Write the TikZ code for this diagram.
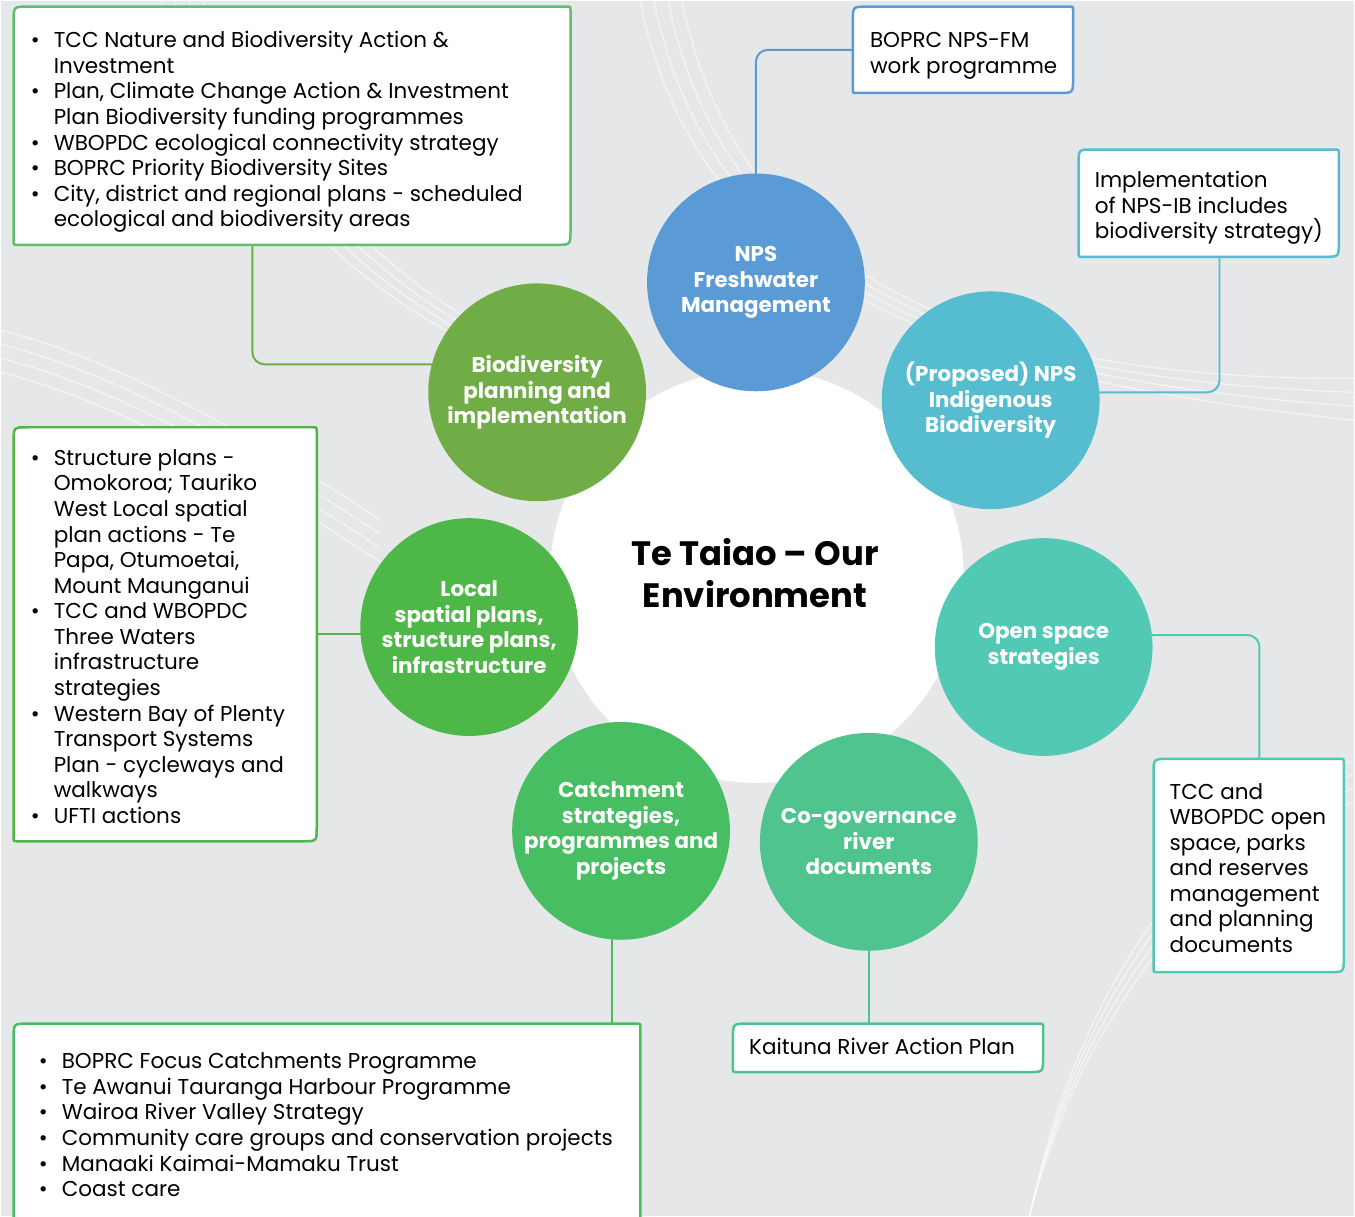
\documentclass[tikz,border=0pt]{standalone}
\usepackage{fontspec}
\setmainfont{Poppins}
\usetikzlibrary{backgrounds,calc}
\definecolor{bgc}{HTML}{E6E7E8}
\definecolor{cNPS}{HTML}{5B9BD5}
\definecolor{cBio}{HTML}{70AD47}
\definecolor{cProp}{HTML}{56BCCF}
\definecolor{cLoc}{HTML}{4DB848}
\definecolor{cOpen}{HTML}{52C9B5}
\definecolor{cCat}{HTML}{47BE62}
\definecolor{cCog}{HTML}{4FC48E}
\definecolor{cBoxG}{HTML}{5CC06C}
% border: large radius at top-left and bottom-right, small at the others
\newcommand\leafborder[2]{%
  \draw[line width=2.5bp, draw=#2, fill=white]
    ($(#1.north west)+(14,0)$) -- ($(#1.north east)+(-4,0)$)
    .. controls (#1.north east) .. ($(#1.north east)+(0,4)$)
    -- ($(#1.south east)+(0,-14)$)
    .. controls (#1.south east) .. ($(#1.south east)+(-14,0)$)
    -- ($(#1.south west)+(4,0)$)
    .. controls (#1.south west) .. ($(#1.south west)+(0,-4)$)
    -- ($(#1.north west)+(0,14)$)
    .. controls (#1.north west) .. ($(#1.north west)+(14,0)$) -- cycle;}
\newcommand\bul{\makebox[23bp][l]{\textbullet}}
\newcommand\ind{\hspace*{23bp}}
\begin{document}
\begin{tikzpicture}[x=1bp,y=-1bp,
  topic/.style={circle, minimum size=218bp, inner sep=0pt, text=white, align=center,
    font=\fontsize{21.5}{25.7}\selectfont\bfseries},
  boxarea/.style={rectangle, inner sep=0pt, anchor=north west},
  boxtext/.style={inner sep=0pt, anchor=north west, align=left, text=black,
    font=\fontsize{21.6}{25.7}\selectfont},
  conn/.style={line width=2bp, rounded corners=12bp},
  deco/.style={draw=white, line width=1.3bp, opacity=0.55}]
\begin{scope}[on background layer]
  \fill[bgc] (0,0) rectangle (1355,1216);
  % faint background ornament
  \foreach \r in {0,14,28,42}{
    \draw[deco] (640+\r,0) .. controls (700+\r,300) and (980+\r,380) .. (1355,420-\r);
    \draw[deco] (160+\r,0) .. controls (250+\r,200) and (380+\r,320) .. (560+\r,380);
    \draw[deco] (1355,760+\r) .. controls (1200,820+\r) and (1080,980+\r) .. (1030,1216);
    \draw[deco] (0,330+\r) .. controls (120,360+\r) and (260,440+\r) .. (380,520+\r);
  }
\end{scope}
\useasboundingbox (0,0) rectangle (1355,1216);

% centre
\node[circle, fill=white, minimum size=414bp, inner sep=0pt] (centre) at (757,576) {};
\node[font=\fontsize{34}{42}\selectfont\bfseries, align=center, text=black] (title) at (755,573)
  {Te Taiao – Our\\Environment};

% topic circles
\node[topic, fill=cNPS]  (nps)  at (756,282) {NPS\\Freshwater\\Management};
\node[topic, fill=cBio]  (bio)  at (537,392) {Biodiversity\\planning and\\implementation};
\node[topic, fill=cProp] (prop) at (991,400) {(Proposed) NPS\\Indigenous\\Biodiversity};
\node[topic, fill=cLoc]  (loc)  at (469,627) {Local\\spatial plans,\\structure plans,\\infrastructure};
\node[topic, fill=cOpen] (open) at (1044,647) {Open space\\strategies};
\node[topic, fill=cCat]  (cat)  at (621,831) {Catchment\\strategies,\\programmes and\\projects};
\node[topic, fill=cCog]  (cog)  at (869,842) {Co-governance\\river\\documents};

% boxes
\node[boxarea, minimum width=557bp, minimum height=238bp] (b1) at (13,6) {};
\leafborder{b1}{cBoxG}
\node[boxtext] (t1) at (30,29) {\strut\bul TCC Nature and Biodiversity Action \&\\
  \ind Investment\\
  \bul Plan, Climate Change Action \& Investment\\
  \ind Plan Biodiversity funding programmes\\
  \bul WBOPDC ecological connectivity strategy\\
  \bul BOPRC Priority Biodiversity Sites\\
  \bul City, district and regional plans - scheduled\\
  \ind ecological and biodiversity areas};

\node[boxarea, minimum width=220bp, minimum height=86bp] (b2) at (853,6) {};
\leafborder{b2}{cNPS}
\node[boxtext] (t2) at (870,29) {\strut BOPRC NPS-FM\\work programme};

\node[boxarea, minimum width=260bp, minimum height=107bp] (b3) at (1079,149) {};
\leafborder{b3}{cProp}
\node[boxtext] (t3) at (1095,169) {\strut Implementation\\of NPS-IB includes\\biodiversity strategy)};

\node[boxarea, minimum width=303bp, minimum height=414bp] (b4) at (13,427) {};
\leafborder{b4}{cLoc}
\node[boxtext] (t4) at (30,447) {\strut\bul Structure plans -\\
  \ind Omokoroa; Tauriko\\
  \ind West Local spatial\\
  \ind plan actions - Te\\
  \ind Papa, Otumoetai,\\
  \ind Mount Maunganui\\
  \bul TCC and WBOPDC\\
  \ind Three Waters\\
  \ind infrastructure\\
  \ind strategies\\
  \bul Western Bay of Plenty\\
  \ind Transport Systems\\
  \ind Plan - cycleways and\\
  \ind walkways\\
  \bul UFTI actions};

\node[boxarea, minimum width=190bp, minimum height=213bp] (b5) at (1154,759) {};
\leafborder{b5}{cOpen}
\node[boxtext] (t5) at (1170,781) {\strut TCC and\\WBOPDC open\\space, parks\\and reserves\\management\\and planning\\documents};

\node[boxarea, minimum width=310bp, minimum height=48bp] (b6) at (733,1024) {};
\leafborder{b6}{cCog}
\node[boxtext] (t6) at (749,1037) {\strut Kaituna River Action Plan};

\node[boxarea, minimum width=627bp, minimum height=230bp] (b7) at (13,1024) {};
\leafborder{b7}{cCat}
\node[boxtext] (t7) at (38,1051) {\strut\bul BOPRC Focus Catchments Programme\\
  \bul Te Awanui Tauranga Harbour Programme\\
  \bul Wairoa River Valley Strategy\\
  \bul Community care groups and conservation projects\\
  \bul Manaaki Kaimai-Mamaku Trust\\
  \bul Coast care};

% connectors
\coordinate (k1) at (252,364);
\coordinate (k3) at (1220,392);
\coordinate (k5) at (1260,635);
\coordinate (k7) at (612,940);
\begin{scope}[on background layer]
  \draw[conn, cBio] (b1.south -| k1) -- (k1) -- (bio.center |- k1);
  \draw[conn, cNPS] (b2.west) -| (nps.center);
  \draw[conn, cProp] (b3.south -| k3) -- (k3) -- (prop.center |- k3);
  \draw[conn, cLoc] (b4.east) -- (loc.center |- b4.east);
  \draw[conn, cOpen] (open.center |- k5) -- (k5) -- (b5.north -| k5);
  \draw[conn, cCog] (cog.center) -- (cog.center |- b6.north);
  \draw[conn, cCat] (k7 |- cat.center) -- (b7.north -| k7);
\end{scope}
\end{tikzpicture}
\end{document}
